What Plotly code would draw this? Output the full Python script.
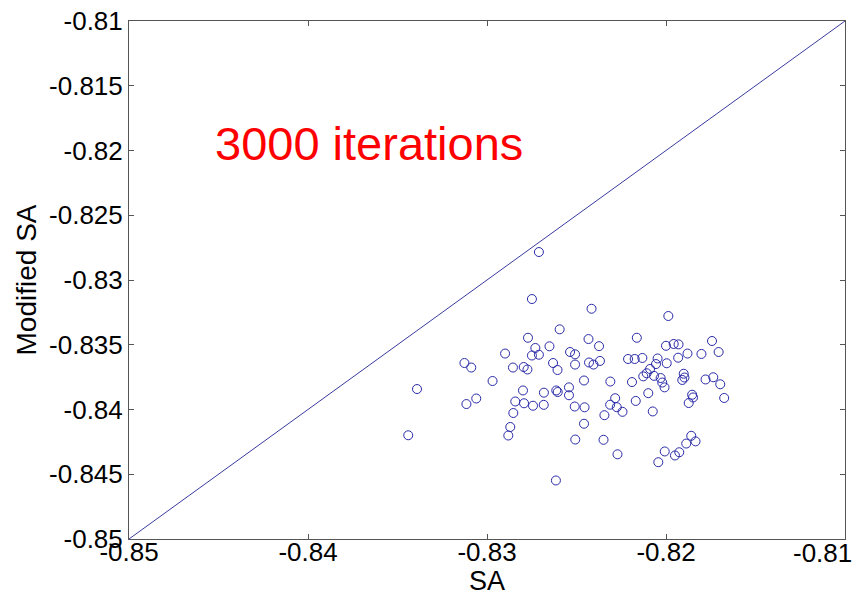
import plotly.graph_objects as go

# SA result (x) vs Modified SA result (y), one point per run
sa = [
    -0.82710, -0.82749, -0.82594, -0.82771, -0.82730, -0.82651, -0.82899, -0.82749, -0.82710, -0.82536,
    -0.82508, -0.83126, -0.83088, -0.82855, -0.82795, -0.82774, -0.82631, -0.82606, -0.82508, -0.82430,
    -0.82405, -0.82369, -0.83391, -0.82969, -0.82799, -0.82682, -0.82613, -0.82605, -0.82542, -0.82542,
    -0.82458, -0.83115, -0.83060, -0.82842, -0.82793, -0.82743, -0.82683, -0.82510, -0.82455, -0.82853,
    -0.82458, -0.82870, -0.82881, -0.83440, -0.82507, -0.82615, -0.82416, -0.81987, -0.82433, -0.82374,
    -0.82163, -0.82000, -0.81957, -0.81930, -0.81743, -0.81706, -0.81802, -0.81880, -0.81932, -0.82212,
    -0.82175, -0.82132, -0.82047, -0.81996, -0.82056, -0.82089, -0.82108, -0.82127, -0.82067, -0.82030,
    -0.82021, -0.82008, -0.81901, -0.81897, -0.81909, -0.81779, -0.81736, -0.81697, -0.81675, -0.81854,
    -0.81849, -0.81873, -0.82311, -0.82190, -0.82099, -0.82169, -0.82074, -0.82284, -0.82312, -0.82275,
    -0.82243, -0.82344, -0.82349, -0.82271, -0.82007, -0.82043, -0.81950, -0.81926, -0.81887, -0.81859,
    -0.81835,
]
modified_sa = [
    -0.82784, -0.83147, -0.83381, -0.83446, -0.83525, -0.83512, -0.83568, -0.83583, -0.83577, -0.83556,
    -0.83574, -0.83641, -0.83676, -0.83676, -0.83672, -0.83691, -0.83641, -0.83695, -0.83653, -0.83637,
    -0.83653, -0.83625, -0.83842, -0.83780, -0.83853, -0.83870, -0.83853, -0.83865, -0.83829, -0.83890,
    -0.83776, -0.83958, -0.83915, -0.83938, -0.83952, -0.83971, -0.83964, -0.83977, -0.83983, -0.84027,
    -0.84110, -0.84135, -0.84201, -0.84199, -0.84232, -0.84548, -0.83222, -0.83278, -0.83456, -0.83511,
    -0.83446, -0.83508, -0.83494, -0.83497, -0.83471, -0.83556, -0.83571, -0.83568, -0.83600, -0.83610,
    -0.83610, -0.83602, -0.83606, -0.83643, -0.83649, -0.83687, -0.83720, -0.83744, -0.83740, -0.83757,
    -0.83792, -0.83829, -0.83724, -0.83753, -0.83772, -0.83768, -0.83751, -0.83805, -0.83911, -0.83886,
    -0.83907, -0.83950, -0.83784, -0.83788, -0.83874, -0.83934, -0.84015, -0.83913, -0.83963, -0.83982,
    -0.84018, -0.84044, -0.84234, -0.84346, -0.84324, -0.84407, -0.84355, -0.84330, -0.84263, -0.84203,
    -0.84246,
]

x_ticks = [-0.85, -0.84, -0.83, -0.82, -0.81]
x_tick_labels = ["-0.85", "-0.84", "-0.83", "-0.82", "-0.81"]
y_ticks = [-0.85, -0.845, -0.84, -0.835, -0.83, -0.825, -0.82, -0.815, -0.81]
y_tick_labels = ["-0.85", "-0.845", "-0.84", "-0.835", "-0.83", "-0.825", "-0.82", "-0.815", "-0.81"]
diag = [-0.85, -0.81]
label_text = "3000 iterations"

FONT = "Liberation Sans, Arial, sans-serif"

fig = go.Figure()
fig.add_trace(go.Scatter(
    x=diag, y=diag, mode="lines",
    line=dict(color="#3a3aa0", width=1), showlegend=False, hoverinfo="skip",
))
fig.add_trace(go.Scatter(
    x=sa, y=modified_sa, mode="markers",
    marker=dict(symbol="circle-open", size=9, color="#2a2aa8", line=dict(width=1)),
    showlegend=False,
))

fig.add_annotation(
    x=-0.84533, y=-0.81945, xref="x", yref="y", text=label_text,
    showarrow=False, xanchor="left", yanchor="middle",
    font=dict(family=FONT, size=47, color="#ff0000"),
)

# the last x tick label sits at the right edge of the figure; keep it fully visible
shown_x_labels = x_tick_labels[:-1] + [""]
fig.add_annotation(
    x=x_ticks[-1], y=0, xref="x", yref="paper", text=x_tick_labels[-1],
    showarrow=False, xanchor="right", yanchor="middle", xshift=9, yshift=-14,
    font=dict(family=FONT, size=26, color="#000000"),
)

axis_common = dict(
    showgrid=False, zeroline=False, showline=True, linecolor="#555555", linewidth=1,
    mirror="ticks", ticks="inside", ticklen=5, tickcolor="#555555",
    tickfont=dict(family=FONT, size=26, color="#000000"),
)

fig.update_layout(
    width=855, height=596,
    margin=dict(l=129, r=10, t=21, b=57),
    paper_bgcolor="white", plot_bgcolor="white",
    xaxis=dict(
        range=[-0.85, -0.81], tickvals=x_ticks, ticktext=shown_x_labels,
        ticklabelstandoff=-10,
        title=dict(text="SA", standoff=7, font=dict(family=FONT, size=27, color="#000000")),
        automargin=False,
        **axis_common,
    ),
    yaxis=dict(
        range=[-0.85, -0.81], tickvals=y_ticks, ticktext=y_tick_labels,
        title=dict(text="Modified SA", standoff=4, font=dict(family=FONT, size=28, color="#000000")),
        automargin=False,
        **axis_common,
    ),
)

fig.write_html("out.html")
